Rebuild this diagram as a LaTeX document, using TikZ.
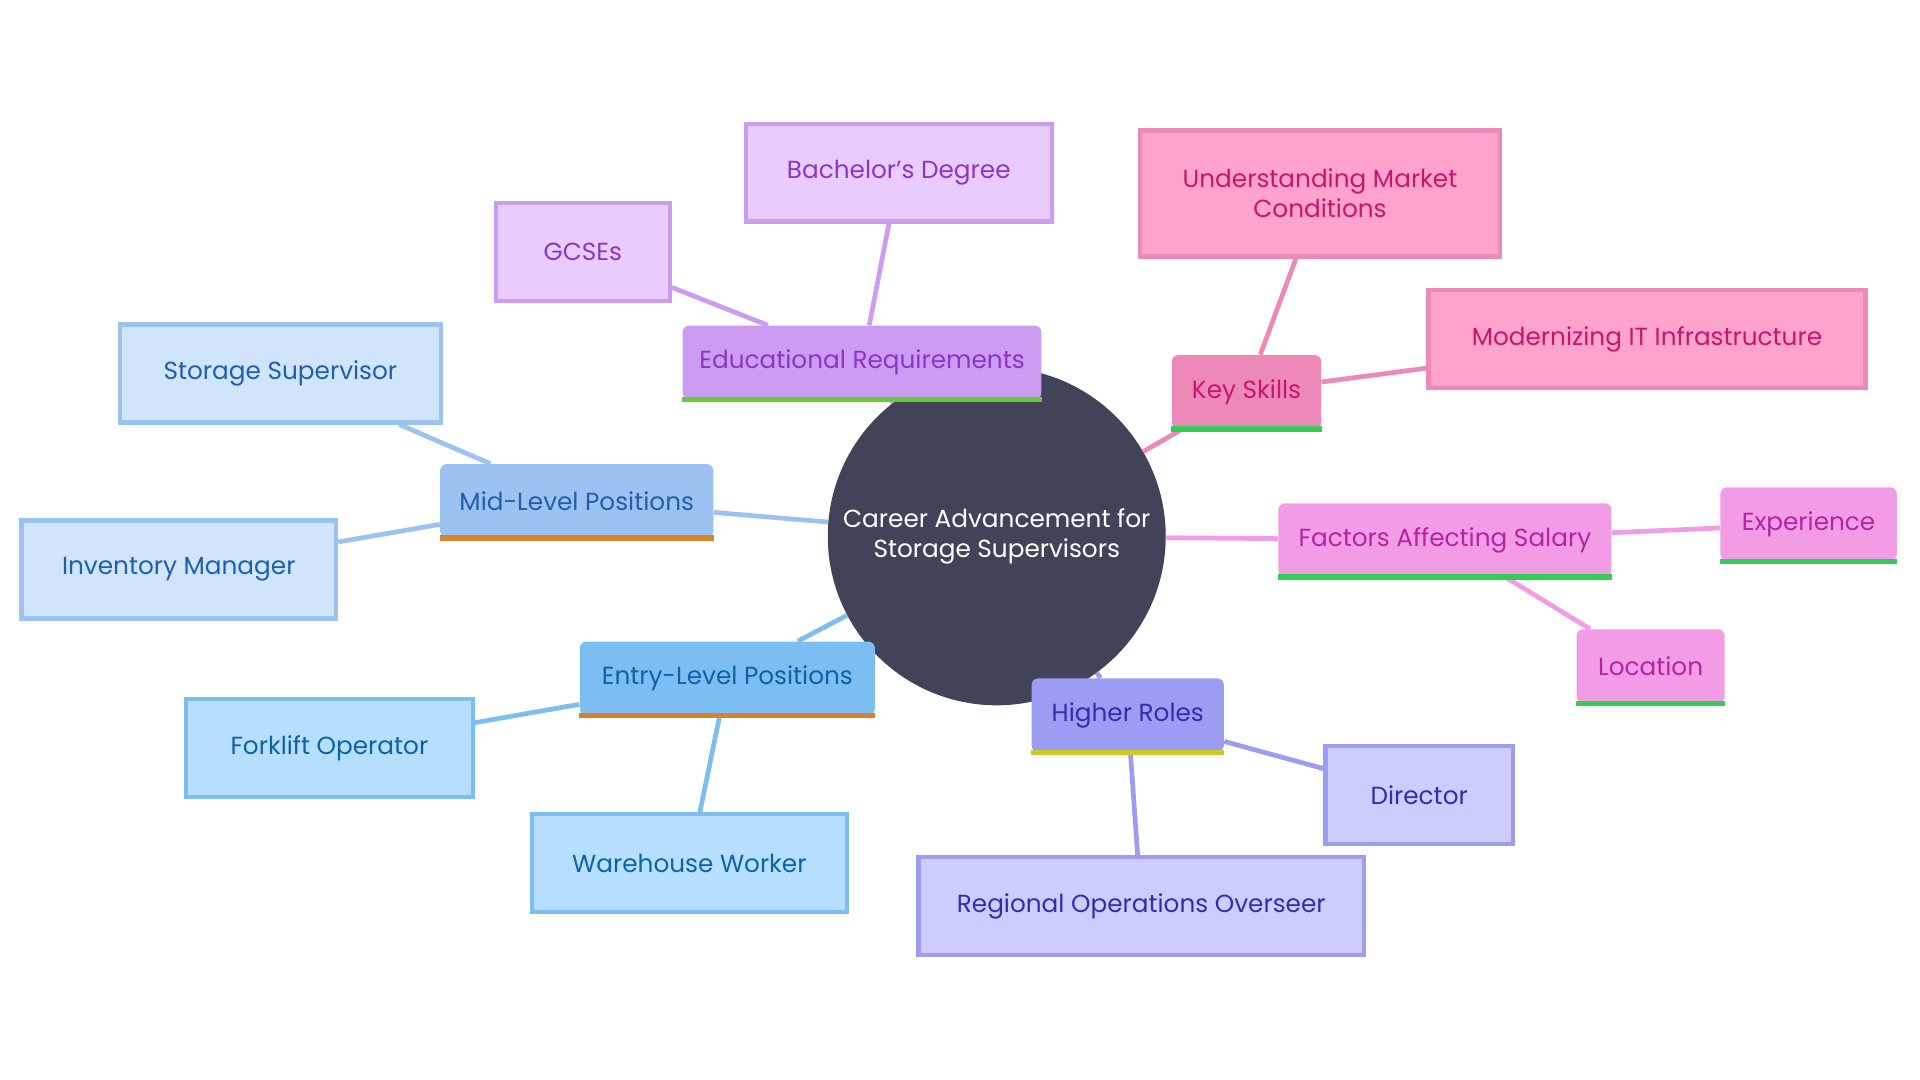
\documentclass[tikz,border=0pt]{standalone}
\usepackage{fontspec}
\setmainfont{Poppins}
\usetikzlibrary{backgrounds}
\definecolor{hub}{HTML}{414459}
\definecolor{midF}{HTML}{9BC2F0}\definecolor{midL}{HTML}{D0E4FB}\definecolor{midT}{HTML}{1D5FB0}
\definecolor{entF}{HTML}{7DBEF2}\definecolor{entL}{HTML}{B5DEFF}\definecolor{entT}{HTML}{0B63A8}
\definecolor{eduF}{HTML}{CC9CF2}\definecolor{eduL}{HTML}{E8CCFF}\definecolor{eduT}{HTML}{8A35C8}
\definecolor{keyF}{HTML}{EC89B8}\definecolor{keyL}{HTML}{FFA3CE}\definecolor{keyT}{HTML}{C8166A}
\definecolor{facF}{HTML}{F29CE6}\definecolor{facT}{HTML}{B523A3}
\definecolor{hiF}{HTML}{9C9CF2}\definecolor{hiL}{HTML}{CCCCFF}\definecolor{hiT}{HTML}{2E2EB0}
\definecolor{orangeL}{HTML}{D9822B}\definecolor{greenL}{HTML}{33CC55}\definecolor{limeL}{HTML}{66CC33}\definecolor{yelL}{HTML}{CCCC22}
\tikzset{
  txt/.style={font=\fontsize{11.5}{14}\selectfont, align=center, inner sep=0pt},
  branch/.style={txt, rounded corners=3pt, fill=#1F, text=#1T, draw=none},
  leaf/.style={txt, fill=#1L, draw=#1F, line width=2pt, text=#1T},
  link/.style={line width=2.2pt, draw=#1F},
}
\newcommand{\uline}[2]{\draw[line width=2.5pt,#2] (#1.south west) -- (#1.south east);}
\begin{document}
\begin{tikzpicture}[x=0.02cm,y=-0.02cm]
\useasboundingbox (0,0) rectangle (1568,882);

% HUB
\node[circle, fill=hub, text=white, txt, minimum size=276*0.02cm] (hub) at (814,438) {Career Advancement for\\Storage Supervisors};

% BRANCHES
\node[branch=mid, minimum width=223*0.02cm, minimum height=60*0.02cm] (mid) at (471,409) {Mid-Level Positions};
\node[branch=ent, minimum width=241*0.02cm, minimum height=60*0.02cm] (ent) at (594,554) {Entry-Level Positions};
\node[branch=edu, minimum width=293*0.02cm, minimum height=60*0.02cm] (edu) at (704,296) {Educational Requirements};
\node[branch=key, minimum width=122*0.02cm, minimum height=60*0.02cm] (key) at (1018,320) {Key Skills};
\node[branch=fac, minimum width=272*0.02cm, minimum height=60*0.02cm] (fac) at (1180,441) {Factors Affecting Salary};
\node[branch=hi, minimum width=157*0.02cm, minimum height=60*0.02cm] (hi) at (921,584) {Higher Roles};
\uline{mid}{orangeL}\uline{ent}{orangeL}\uline{edu}{limeL}\uline{key}{greenL}\uline{fac}{greenL}\uline{hi}{yelL}

% LEAVES
\node[leaf=mid, minimum width=262*0.02cm, minimum height=80*0.02cm] (sup) at (229,305) {Storage Supervisor};
\node[leaf=mid, minimum width=257*0.02cm, minimum height=80*0.02cm] (inv) at (146,465) {Inventory Manager};
\node[leaf=ent, minimum width=234*0.02cm, minimum height=80*0.02cm] (fork) at (269,611) {Forklift Operator};
\node[leaf=ent, minimum width=257*0.02cm, minimum height=80*0.02cm] (ware) at (563,705) {Warehouse Worker};
\node[leaf=edu, minimum width=142*0.02cm, minimum height=80*0.02cm] (gcse) at (476,206) {GCSEs};
\node[leaf=edu, minimum width=250*0.02cm, minimum height=80*0.02cm] (bach) at (734,141) {Bachelor's Degree};
\node[leaf=key, minimum width=294*0.02cm, minimum height=103*0.02cm] (mark) at (1078,158) {Understanding Market\\Conditions};
\node[leaf=key, minimum width=357*0.02cm, minimum height=80*0.02cm] (it) at (1345,277) {Modernizing IT Infrastructure};
\node[branch=fac, minimum width=144*0.02cm, minimum height=60*0.02cm] (exp) at (1477,428) {Experience};
\node[branch=fac, minimum width=121*0.02cm, minimum height=60*0.02cm] (loc) at (1348,544) {Location};
\uline{exp}{greenL}\uline{loc}{greenL}
\node[leaf=hi, minimum width=153*0.02cm, minimum height=80*0.02cm] (dir) at (1159,649) {Director};
\node[leaf=hi, minimum width=364*0.02cm, minimum height=80*0.02cm] (reg) at (932,740) {Regional Operations Overseer};

% LINKS
\begin{scope}[on background layer]
\draw[link=mid] (hub) -- (mid);
\draw[link=mid] (mid) -- (sup);
\draw[link=mid] (mid) -- (inv);
\draw[link=ent] (hub) -- (ent);
\draw[link=ent] (ent) -- (fork);
\draw[link=ent] (ent) -- (ware);
\draw[link=edu] (hub) -- (edu);
\draw[link=edu] (edu) -- (gcse);
\draw[link=edu] (edu) -- (bach);
\draw[link=key] (hub) -- (key);
\draw[link=key] (key) -- (mark);
\draw[link=key] (key) -- (it);
\draw[link=fac] (hub) -- (fac);
\draw[link=fac] (fac) -- (exp);
\draw[link=fac] (fac) -- (loc);
\draw[link=hi] (hub) -- (hi);
\draw[link=hi] (hi) -- (dir);
\draw[link=hi] (hi) -- (reg);
\end{scope}
\end{tikzpicture}
\end{document}
